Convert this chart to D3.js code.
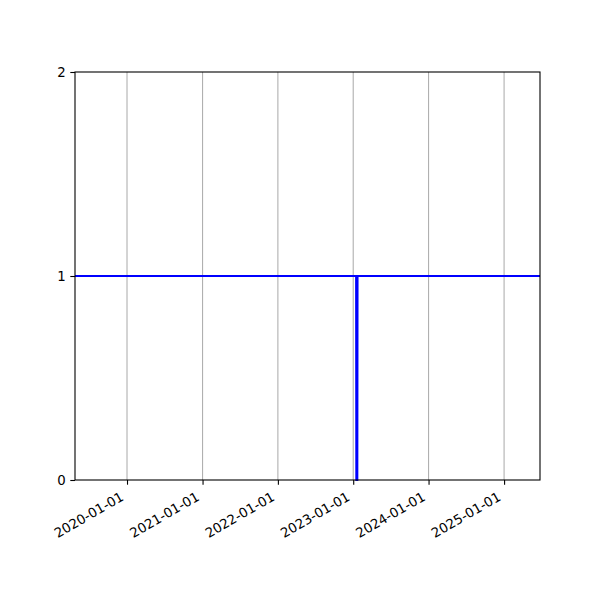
<!DOCTYPE html>
<html>
<head>
<meta charset="utf-8">
<script src="https://cdn.jsdelivr.net/npm/d3@7"></script>
<style>
  body { margin: 0; background: #fff; }
  text { font-family: "DejaVu Sans", sans-serif; font-size: 13.3px; fill: #000; }
</style>
</head>
<body>
<div id="chart"></div>
<script>
// data: value is 1 everywhere except a short drop to 0 in Jan 2023
const dates = ["2019-04-24", "2023-01-15", "2023-01-16", "2023-01-21", "2023-01-22", "2025-06-24"];
const values = [1, 1, 0, 0, 1, 1];
const xTicks = ["2020-01-01", "2021-01-01", "2022-01-01", "2023-01-01", "2024-01-01", "2025-01-01"];
const yTicks = [0, 1, 2];

const W = 600, H = 600;
const margin = { top: 72, right: 60, bottom: 120, left: 75 },
  width = W - margin.left - margin.right,
  height = H - margin.top - margin.bottom;

const parse = d3.utcParse("%Y-%m-%d");
const points = dates.map((d, i) => ({ date: parse(d), value: values[i] }));

const svg = d3.select("#chart").append("svg")
  .attr("width", W).attr("height", H);

const g = svg.append("g")
  .attr("transform", "translate(" + margin.left + "," + margin.top + ")");

const x = d3.scaleUtc()
  .domain(d3.extent(points, d => d.date))
  .range([0, width]);

const y = d3.scaleLinear().domain([0, 2]).range([height, 0]);

// vertical grid lines at each tick
g.selectAll("line.grid")
  .data(xTicks.map(parse))
  .enter()
  .append("line")
  .attr("class", "grid")
  .attr("x1", d => x(d)).attr("x2", d => x(d))
  .attr("y1", 0).attr("y2", height)
  .attr("stroke", "#b0b0b0")
  .attr("stroke-width", 1.1);

// the series
const line = d3.line()
  .x(d => x(d.date))
  .y(d => y(d.value));

g.append("path")
  .datum(points)
  .attr("d", line)
  .attr("fill", "none")
  .attr("stroke", "#0000ff")
  .attr("stroke-width", 2);

// x axis
const xAxis = g.append("g")
  .attr("transform", "translate(0," + height + ")")
  .call(d3.axisBottom(x)
    .tickValues(xTicks.map(parse))
    .tickFormat(d3.utcFormat("%Y-%m-%d"))
    .tickSize(4.7)
    .tickPadding(0));
xAxis.select(".domain").remove();
xAxis.selectAll("line").attr("stroke", "#000").attr("stroke-width", 1.1);
xAxis.selectAll("text")
  .attr("text-anchor", "end")
  .attr("font-size", null)
  .attr("font-family", null)
  .attr("y", 0).attr("dy", "0.78em")
  .attr("transform", "translate(-8,10.5) rotate(-30)");

// y axis
const yAxis = g.append("g")
  .call(d3.axisLeft(y)
    .tickValues(yTicks)
    .tickFormat(d3.format("d"))
    .tickSize(4.7)
    .tickPadding(4.7));
yAxis.select(".domain").remove();
yAxis.selectAll("line").attr("stroke", "#000").attr("stroke-width", 1.1);
yAxis.selectAll("text").attr("font-size", null).attr("font-family", null);

// frame drawn on top of the line, like matplotlib spines
g.append("rect")
  .attr("width", width).attr("height", height)
  .attr("fill", "none")
  .attr("stroke", "#000")
  .attr("stroke-width", 1.1);
</script>
</body>
</html>
